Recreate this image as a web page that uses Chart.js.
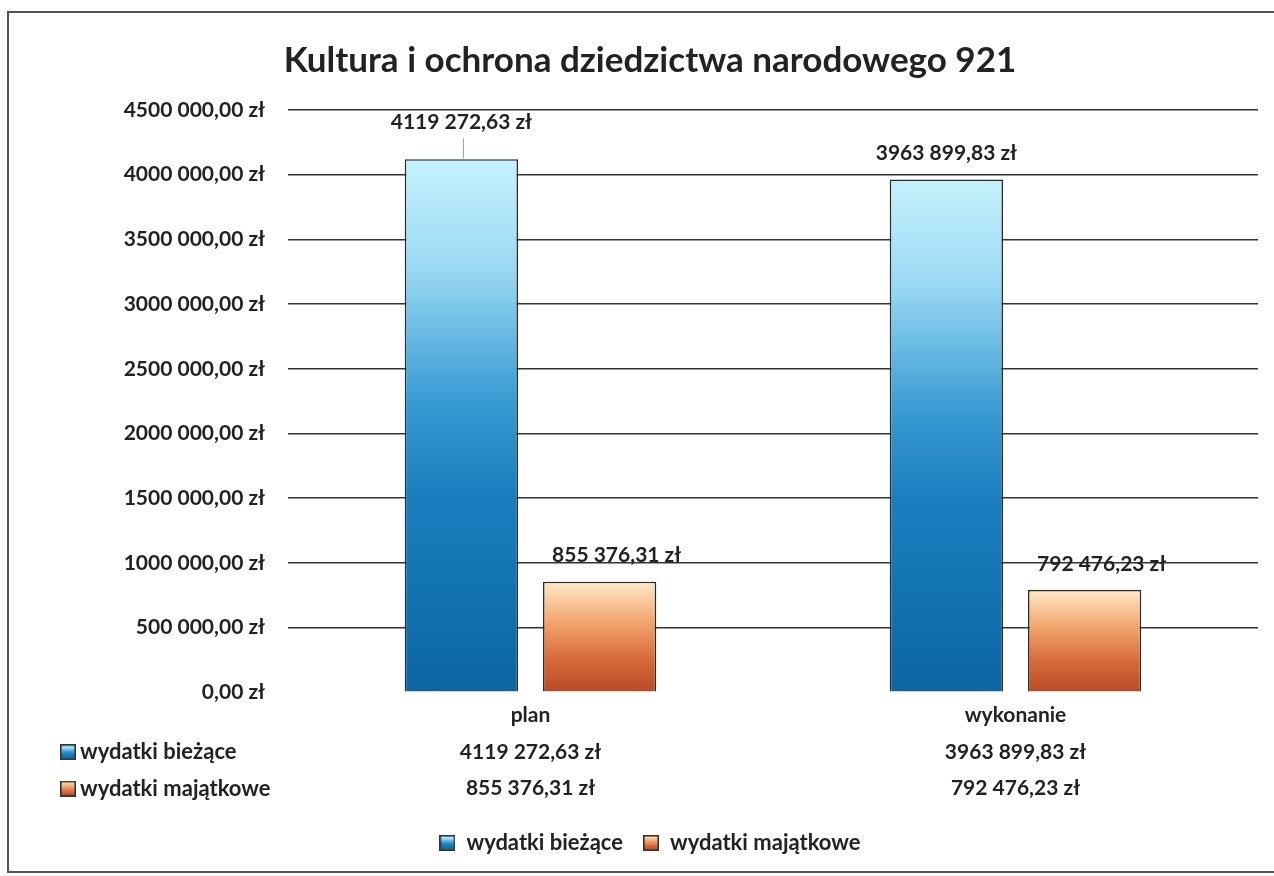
<!DOCTYPE html>
<html>
<head>
<meta charset="utf-8">
<script src="https://cdn.jsdelivr.net/npm/chart.js@4/dist/chart.umd.min.js"></script>
<style>
  html, body { margin: 0; padding: 0; background: #fff; overflow: hidden; }
  #wrap { position: relative; width: 1274px; height: 876px; }
  #frame { position: absolute; left: 7px; top: 11px; width: 1320px; height: 862px;
           border: 2px solid #555; box-sizing: border-box; }
  #chart { position: absolute; left: 0; top: 0; }
</style>
</head>
<body>
<div id="wrap">
  <div id="frame"></div>
  <canvas id="chart" width="1274" height="876"></canvas>
</div>
<script>
const title = 'Kultura i ochrona dziedzictwa narodowego 921'
const categories = ['plan', 'wykonanie']
const seriesNames = ['wydatki bieżące', 'wydatki majątkowe']
const biezace = [4119272.63, 3963899.83]
const majatkowe = [855376.31, 792476.23]
const yMax = 4500000
const yStep = 500000

const FONT = 'Lato'
const TEXT = '#222'

// colour ramps for the two series, light at the top of the bar, dark at the base
const ramps = [
  [[0, '#c6f1fd'], [0.2, '#9cdaf3'], [0.45, '#3a9bd2'], [0.62, '#1a7fbf'], [1, '#0b66a3']],
  [[0, '#fde9c8'], [0.35, '#f2a872'], [0.7, '#d76a3a'], [1, '#b84a26']]
]

function fmt(v) {
  const parts = v.toFixed(2).split('.')
  let int = parts[0]
  if (int.length > 3) int = int.slice(0, -3) + ' ' + int.slice(-3)
  return int + ',' + parts[1] + ' zł'
}

function fillRamp(g, ramp) {
  ramp.forEach(s => g.addColorStop(s[0], s[1]))
  return g
}

// small swatch used in the legend and the table row headers
function swatch(ramp) {
  const c = document.createElement('canvas')
  c.width = 16; c.height = 16
  const x = c.getContext('2d')
  x.fillStyle = fillRamp(x.createLinearGradient(0, 1, 0, 15), ramp)
  x.fillRect(1, 1, 14, 14)
  x.strokeStyle = '#333'
  x.lineWidth = 1.6
  x.strokeRect(0.8, 0.8, 14.4, 14.4)
  return c
}
const swatches = ramps.map(swatch)

function barFill(rampIndex) {
  return function (ctx) {
    const chart = ctx.chart
    if (!chart.chartArea || ctx.raw === undefined) return ramps[rampIndex][2][1]
    const y = chart.scales.y
    const top = y.getPixelForValue(ctx.raw)
    const base = y.getPixelForValue(0)
    return fillRamp(chart.ctx.createLinearGradient(0, top, 0, base), ramps[rampIndex])
  }
}

const TICK_SIZE = 21
const TICK_LH = 1.74
const X_PAD = 5

// value labels above the bars
const valueLabels = {
  id: 'valueLabels',
  afterDatasetsDraw(chart) {
    const c = chart.ctx
    c.save()
    c.font = 'bold 21px ' + FONT
    c.fillStyle = TEXT
    c.textAlign = 'center'
    c.textBaseline = 'middle'
    chart.data.datasets.forEach((ds, di) => {
      chart.getDatasetMeta(di).data.forEach((bar, i) => {
        let dx = di === 1 ? 17 : 0
        let dy = 26
        if (di === 0 && i === 0) {
          dy = 37
          c.strokeStyle = '#999'
          c.lineWidth = 1
          c.beginPath()
          c.moveTo(bar.x + 2, bar.y - 1)
          c.lineTo(bar.x + 2, bar.y - 21)
          c.stroke()
        }
        c.fillText(fmt(ds.data[i]), bar.x + dx, bar.y - dy)
      })
    })
    c.restore()
  }
}

// row headers of the data table under the x axis
const tableRows = {
  id: 'tableRows',
  afterDraw(chart) {
    const c = chart.ctx
    const x = chart.scales.x
    const lh = TICK_SIZE * TICK_LH
    c.save()
    c.font = 'bold 22px ' + FONT
    c.fillStyle = TEXT
    c.textAlign = 'left'
    c.textBaseline = 'middle'
    seriesNames.forEach((name, k) => {
      const yy = x.top + X_PAD + (k + 1.5) * lh
      c.drawImage(swatches[k], 60, yy - 8)
      c.fillText(name, 80, yy)
    })
    c.restore()
  }
}

new Chart(document.getElementById('chart'), {
  type: 'bar',
  data: {
    labels: categories.map((cat, i) => [cat, fmt(biezace[i]), fmt(majatkowe[i])]),
    datasets: [
      {
        label: seriesNames[0],
        data: biezace,
        backgroundColor: barFill(0),
        borderColor: '#2a2a2a',
        borderWidth: 1.6,
        pointStyle: swatches[0]
      },
      {
        label: seriesNames[1],
        data: majatkowe,
        backgroundColor: barFill(1),
        borderColor: '#2a2a2a',
        borderWidth: 1.6,
        pointStyle: swatches[1]
      }
    ]
  },
  options: {
    responsive: false,
    animation: false,
    categoryPercentage: 0.57,
    barPercentage: 0.82,
    layout: { padding: { left: 42, right: 16, top: 10, bottom: 12 } },
    plugins: {
      title: {
        display: true,
        text: title,
        color: TEXT,
        font: { family: FONT, size: 35, weight: 'bold' },
        padding: { top: 30, bottom: 28 }
      },
      legend: {
        position: 'bottom',
        labels: {
          usePointStyle: true,
          color: TEXT,
          font: { family: FONT, size: 22, weight: 'bold' },
          padding: 20,
          boxWidth: 16,
          boxHeight: 16
        }
      },
      tooltip: { enabled: false }
    },
    scales: {
      y: {
        min: 0,
        max: yMax,
        border: { display: false },
        afterFit: scale => { scale.width = 246 },
        grid: {
          drawTicks: false,
          lineWidth: 1.6,
          color: ctx => ctx.tick && ctx.tick.value === 0 ? 'rgba(0,0,0,0)' : '#333'
        },
        ticks: {
          stepSize: yStep,
          padding: 23,
          color: TEXT,
          font: { family: FONT, size: TICK_SIZE, weight: 'bold' },
          callback: v => fmt(v)
        }
      },
      x: {
        border: { display: false },
        grid: { display: false, drawTicks: false },
        ticks: {
          padding: X_PAD,
          color: TEXT,
          font: { family: FONT, size: TICK_SIZE, weight: 'bold', lineHeight: TICK_LH }
        }
      }
    }
  },
  plugins: [valueLabels, tableRows]
})
</script>
</body>
</html>
